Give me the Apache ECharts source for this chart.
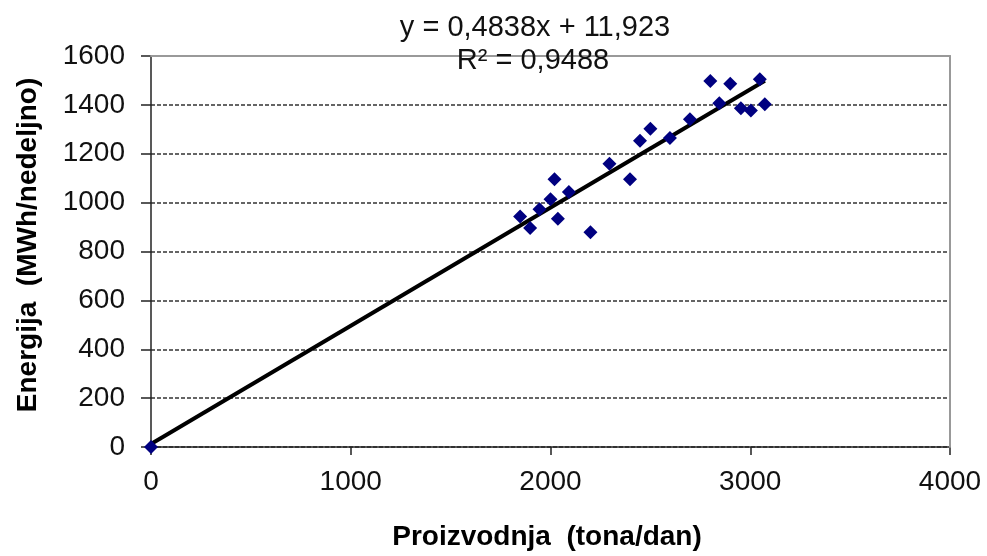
<!DOCTYPE html>
<html>
<head>
<meta charset="utf-8">
<script src="https://cdn.jsdelivr.net/npm/echarts@6/dist/echarts.min.js"></script>
<style>
html,body{margin:0;padding:0;background:#fff;}
#chart{width:987px;height:556px;}
</style>
</head>
<body>
<div id="chart"></div>
<script>
// Data
var prodX = [0, 1848, 1898, 1945, 2000, 2020, 2037, 2092, 2200, 2295, 2398, 2448, 2500, 2598, 2698, 2800, 2845, 2900, 2953, 3003, 3048, 3073];
var energyY = [0, 943, 896, 973, 1014, 1096, 934, 1043, 879, 1159, 1096, 1253, 1302, 1264, 1341, 1498, 1407, 1486, 1386, 1377, 1505, 1403];
var trendX = [0, 3073];
var trendY = [12, 1499];
var xTicks = [0, 1000, 2000, 3000, 4000];
var yTicks = [0, 200, 400, 600, 800, 1000, 1200, 1400, 1600];
var equationText = 'y = 0,4838x + 11,923';
var r2Text = 'R² = 0,9488';
var xTitle = 'Proizvodnja  (tona/dan)';
var yTitle = 'Energija  (MWh/nedeljno)';

var FONT = "'Liberation Sans', Arial, sans-serif";
var chart = echarts.init(document.getElementById('chart'), null, {renderer: 'canvas'});

var scatterData = prodX.map(function (x, i) { return [x, energyY[i]]; });
var trendData = trendX.map(function (x, i) { return [x, trendY[i]]; });
function plain(v) { return String(v); }

chart.setOption({
  backgroundColor: '#ffffff',
  animation: false,
  grid: {left: 151, right: 37, top: 56, bottom: 109, show: false},
  xAxis: [{
    type: 'value', min: xTicks[0], max: xTicks[xTicks.length - 1], interval: 1000,
    axisLine: {show: true, onZero: false, lineStyle: {color: '#222', width: 1.5}},
    axisTick: {show: true, inside: false, length: 8, lineStyle: {color: '#222', width: 1.5}},
    axisLabel: {color: '#111', fontSize: 28, fontFamily: FONT, margin: 21, formatter: plain},
    splitLine: {show: false}
  }, {
    type: 'value', position: 'top', min: xTicks[0], max: xTicks[xTicks.length - 1], z: 5,
    axisLine: {show: true, onZero: false, lineStyle: {color: '#999', width: 2}},
    axisTick: {show: false}, axisLabel: {show: false}, splitLine: {show: false}
  }],
  yAxis: [{
    type: 'value', min: yTicks[0], max: yTicks[yTicks.length - 1], interval: 200,
    axisLine: {show: true, onZero: false, lineStyle: {color: '#222', width: 1.5}},
    axisTick: {show: true, inside: false, length: 10, lineStyle: {color: '#222', width: 1.5}},
    axisLabel: {color: '#111', fontSize: 28, fontFamily: FONT, margin: 26, formatter: plain},
    splitLine: {show: true, lineStyle: {color: '#333', width: 1.5, type: [4, 2]}}
  }, {
    type: 'value', position: 'right', min: yTicks[0], max: yTicks[yTicks.length - 1], z: 5,
    axisLine: {show: true, onZero: false, lineStyle: {color: '#999', width: 2}},
    axisTick: {show: false}, axisLabel: {show: false}, splitLine: {show: false}
  }],
  series: [{
    type: 'line', data: trendData, xAxisIndex: 0, yAxisIndex: 0,
    symbol: 'none', z: 3,
    lineStyle: {color: '#000', width: 4}
  }, {
    type: 'scatter', data: scatterData, xAxisIndex: 0, yAxisIndex: 0,
    symbol: 'diamond', symbolSize: 14, z: 4,
    itemStyle: {color: '#000080', opacity: 1}
  }],
  graphic: [{
    type: 'text', x: 535, y: 28, z: 10,
    style: {text: equationText, fill: '#111', font: '29px ' + FONT, align: 'center', verticalAlign: 'middle'}
  }, {
    type: 'text', x: 533, y: 61, z: 10,
    style: {text: r2Text, fill: '#111', font: '29px ' + FONT, align: 'center', verticalAlign: 'middle'}
  }, {
    type: 'text', x: 547, y: 537, z: 10,
    style: {text: xTitle, fill: '#000', font: 'bold 28px ' + FONT, align: 'center', verticalAlign: 'middle'}
  }, {
    type: 'text', x: 28, y: 245, rotation: Math.PI / 2, z: 10,
    style: {text: yTitle, fill: '#000', font: 'bold 28px ' + FONT, align: 'center', verticalAlign: 'middle'}
  }]
});
</script>
</body>
</html>
